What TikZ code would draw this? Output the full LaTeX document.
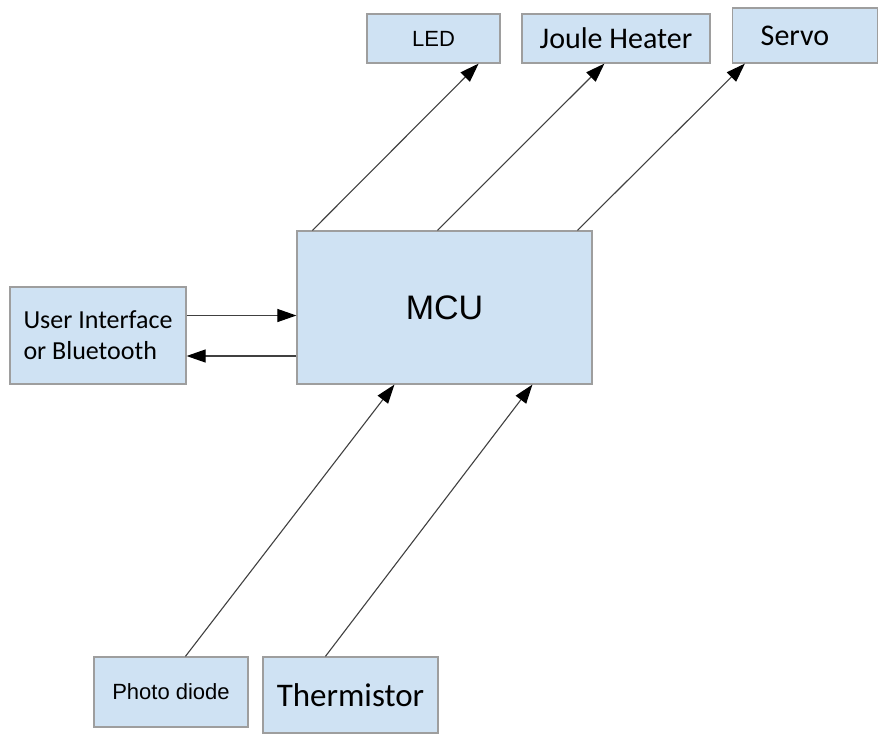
\documentclass[tikz,border=0pt]{standalone}
\usepackage{fontspec}
\setmainfont{Carlito}
\newfontfamily\arialfont{Liberation Sans}
\usetikzlibrary{positioning, arrows.meta, calc}
\usepackage{xcolor}
\definecolor{boxblue}{HTML}{CFE2F3}
\definecolor{boxline}{HTML}{9E9E9E}

\begin{document}
\begin{tikzpicture}[x=1pt, y=-1pt,
  blk/.style={draw=boxline, line width=1.2pt, fill=boxblue, inner sep=0pt},
  arr/.style={draw=black!75, line width=1.1pt, -{Triangle[length=19pt, width=13pt, color=black]}}]
  \useasboundingbox (0,0) rectangle (882,734);

  \node[blk, minimum width=133pt, minimum height=49pt, font=\arialfont\fontsize{22}{26}\selectfont] (led) at (433.5,38.5) {LED};
  \node[blk, minimum width=188pt, minimum height=49pt, font=\fontsize{30}{34}\selectfont] (heater) at (616,38.5) {Joule Heater};
  \node[blk, minimum width=145pt, minimum height=55pt, font=\fontsize{30}{34}\selectfont] (servo) at (805,35.5) {\hspace*{-20pt}Servo};

  \node[blk, minimum width=295pt, minimum height=153pt, font=\arialfont\fontsize{34}{38}\selectfont] (mcu) at (444.5,307.5) {MCU};

  \node[blk, minimum width=176pt, minimum height=97pt, align=left, font=\fontsize{26}{31}\selectfont] (ui) at (98,335.5) {User Interface\\or Bluetooth};

  \node[blk, minimum width=154pt, minimum height=70pt, font=\arialfont\fontsize{22}{26}\selectfont] (photo) at (171,692) {Photo diode};
  \node[blk, minimum width=175pt, minimum height=76pt, font=\fontsize{33}{38}\selectfont] (therm) at (350.5,695) {Thermistor};

  % outputs
  \draw[arr] ([xshift=16pt]mcu.north west) -- ([xshift=-22pt]led.south east);
  \draw[arr] ([xshift=141pt]mcu.north west) -- ([xshift=83pt]heater.south west);
  \draw[arr] ([xshift=281pt]mcu.north west) -- ([xshift=13pt]servo.south west);

  % user interface link
  \draw[arr] ([yshift=20pt]ui.east) -- ([yshift=20pt]ui.east -| mcu.west);
  \draw[arr] ([yshift=-20.5pt]ui.east -| mcu.west) -- ([yshift=-20.5pt]ui.east);

  % sensors
  \draw[arr] ([xshift=92pt]photo.north west) -- ([xshift=98pt]mcu.south west);
  \draw[arr] ([xshift=63pt]therm.north west) -- ([xshift=236pt]mcu.south west);
\end{tikzpicture}
\end{document}
